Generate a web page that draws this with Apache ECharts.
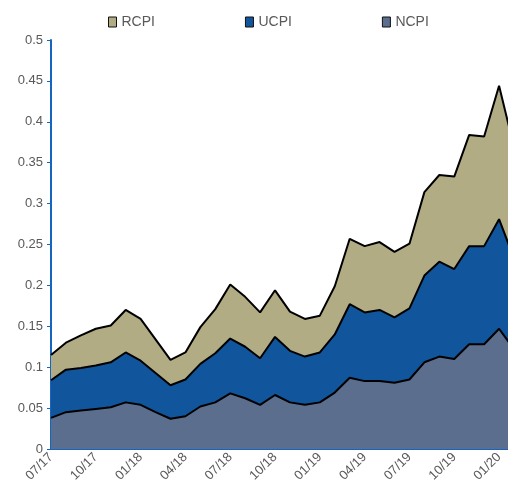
<!DOCTYPE html>
<html>
<head>
    <meta charset="utf-8" />
    <title>CPI</title>
    <script src="https://cdn.jsdelivr.net/npm/echarts@6/dist/echarts.min.js"></script>
    <style>
        html, body { margin: 0; padding: 0; background: #fff; }
        #chart { width: 508px; height: 495px; }
    </style>
</head>
<body>
    <div id="chart"></div>
    <script type="text/javascript">
        var months = ['07/17', '08/17', '09/17', '10/17', '11/17', '12/17', '01/18', '02/18', '03/18', '04/18',
            '05/18', '06/18', '07/18', '08/18', '09/18', '10/18', '11/18', '12/18', '01/19', '02/19', '03/19',
            '04/19', '05/19', '06/19', '07/19', '08/19', '09/19', '10/19', '11/19', '12/19', '01/20', '02/20'];

        var ncpi = [0.038, 0.045, 0.047, 0.049, 0.051, 0.057, 0.054, 0.045, 0.037, 0.040, 0.052, 0.057, 0.068,
            0.062, 0.054, 0.066, 0.057, 0.054, 0.057, 0.069, 0.087, 0.083, 0.083, 0.081, 0.085, 0.106, 0.113,
            0.110, 0.128, 0.128, 0.147, 0.122];
        var ucpi = [0.046, 0.052, 0.052, 0.053, 0.055, 0.061, 0.054, 0.048, 0.041, 0.045, 0.052, 0.060, 0.067,
            0.063, 0.057, 0.071, 0.063, 0.059, 0.061, 0.071, 0.090, 0.084, 0.087, 0.080, 0.087, 0.106, 0.116,
            0.110, 0.120, 0.120, 0.134, 0.111];
        var rcpi = [0.031, 0.033, 0.040, 0.045, 0.045, 0.052, 0.051, 0.041, 0.031, 0.033, 0.045, 0.054, 0.066,
            0.061, 0.056, 0.057, 0.048, 0.046, 0.045, 0.059, 0.080, 0.081, 0.083, 0.080, 0.079, 0.102, 0.106,
            0.113, 0.136, 0.134, 0.163, 0.136];

        var axisBlue = '#1565c0';
        var textGrey = '#595959';

        function areaSeries(name, data, color) {
            return {
                name: name,
                type: 'line',
                stack: 'cpi',
                data: data,
                symbol: 'none',
                lineStyle: { color: '#000', width: 2 },
                itemStyle: { color: color },
                areaStyle: { color: color, opacity: 1 }
            };
        }

        var chart = echarts.init(document.getElementById('chart'));
        chart.setOption({
            animation: false,
            legend: {
                data: ['RCPI', 'UCPI', 'NCPI'],
                top: 10,
                left: 103,
                icon: 'rect',
                itemWidth: 8,
                itemHeight: 10,
                itemGap: 90,
                itemStyle: { borderColor: '#111', borderWidth: 1 },
                textStyle: { fontFamily: 'Liberation Sans', fontSize: 14, color: textGrey }
            },
            // the last month runs a little past the right edge of the picture
            grid: { left: 51, right: -6, top: 40, bottom: 46, containLabel: false, outerBoundsMode: 'none' },
            xAxis: {
                type: 'category',
                data: months,
                boundaryGap: false,
                axisLine: { lineStyle: { color: axisBlue, width: 2 } },
                axisTick: { show: false },
                axisLabel: {
                    interval: 2,
                    rotate: 45,
                    margin: 6,
                    fontFamily: 'Liberation Sans',
                    fontSize: 13,
                    color: textGrey
                },
                splitLine: { show: false }
            },
            yAxis: {
                type: 'value',
                min: 0,
                max: 0.5,
                interval: 0.05,
                axisLine: { show: true, lineStyle: { color: axisBlue, width: 2 } },
                axisTick: { show: true, length: 4, lineStyle: { color: axisBlue, width: 1 } },
                axisLabel: {
                    margin: 8,
                    fontFamily: 'Liberation Sans',
                    fontSize: 13,
                    color: textGrey
                },
                splitLine: { show: false }
            },
            series: [
                areaSeries('NCPI', ncpi, '#5b6e8d'),
                areaSeries('UCPI', ucpi, '#11569d'),
                areaSeries('RCPI', rcpi, '#b1ac84')
            ]
        });
    </script>
</body>
</html>
